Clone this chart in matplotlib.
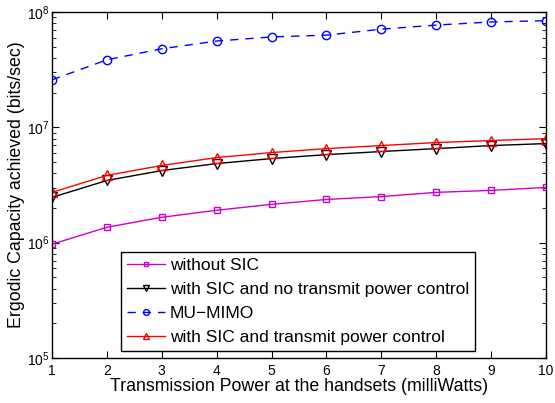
import numpy as np
import matplotlib
matplotlib.use('Agg')
import matplotlib.pyplot as plt
from matplotlib.ticker import LogLocator, NullFormatter

plt.rcParams['font.family'] = ['Liberation Sans', 'DejaVu Sans']
plt.rcParams['mathtext.fontset'] = 'custom'
plt.rcParams['mathtext.rm'] = 'Liberation Sans'

# Data
power_mw = [1, 2, 3, 4, 5, 6, 7, 8, 9, 10]
without_sic = [9.7e5, 1.36e6, 1.66e6, 1.91e6, 2.15e6, 2.37e6, 2.51e6, 2.73e6, 2.84e6, 3.01e6]
sic_no_pc = [2.47e6, 3.46e6, 4.22e6, 4.85e6, 5.36e6, 5.8e6, 6.17e6, 6.54e6, 6.95e6, 7.23e6]
mu_mimo = [2.58e7, 3.85e7, 4.8e7, 5.6e7, 6.08e7, 6.3e7, 7.1e7, 7.7e7, 8.2e7, 8.4e7]
sic_pc = [2.73e6, 3.83e6, 4.67e6, 5.47e6, 6.04e6, 6.54e6, 6.95e6, 7.38e6, 7.68e6, 7.98e6]

W, H = 555, 403
fig = plt.figure(figsize=(W / 100, H / 100), dpi=100)
ax = fig.add_axes([52 / W, 1 - 358 / H, 494 / W, 346 / H])

ax.semilogy(power_mw, without_sic, '-s', color='#cc00cc', mfc='none', ms=5, lw=1,
            label='without SIC')
ax.semilogy(power_mw, sic_no_pc, '-v', color='black', mfc='none', ms=6.5, lw=1,
            label='with SIC and no transmit power control')
ax.semilogy(power_mw, mu_mimo, '--o', color='blue', mfc='none', ms=6, lw=1,
            dashes=(6, 5), label='MU\u2212MIMO')
ax.semilogy(power_mw, sic_pc, '-^', color='red', mfc='none', ms=7, lw=1,
            label='with SIC and transmit power control')

ax.set_xlim(1, 10)
ax.set_ylim(1e5, 1e8)
ax.set_xticks(power_mw)
ax.yaxis.set_minor_locator(LogLocator(base=10, subs=np.arange(2, 10)))
ax.yaxis.set_minor_formatter(NullFormatter())
ax.tick_params(which='both', direction='in', top=True, right=True, labelsize=10)
ax.tick_params(which='major', length=5)
ax.tick_params(which='minor', length=3)
ax.tick_params(axis='x', pad=4)
ax.tick_params(axis='y', pad=2)
for s in ax.spines.values():
    s.set_linewidth(1)

ax.set_xlabel('Transmission Power at the handsets (milliWatts)', fontsize=12.8, labelpad=0)
ax.set_ylabel('Ergodic Capacity achieved (bits/sec)', fontsize=12.8, labelpad=1)

leg = ax.legend(loc='upper left', bbox_to_anchor=(121 / W, 1 - 252 / H),
                bbox_transform=fig.transFigure, borderaxespad=0,
                fontsize=12.5, fancybox=False, edgecolor='black', framealpha=1,
                handlelength=2.2, markerscale=0.7, borderpad=0.35,
                labelspacing=0.5, handletextpad=0.25)
leg.get_frame().set_linewidth(1)

fig.savefig('out.png', dpi=100)
